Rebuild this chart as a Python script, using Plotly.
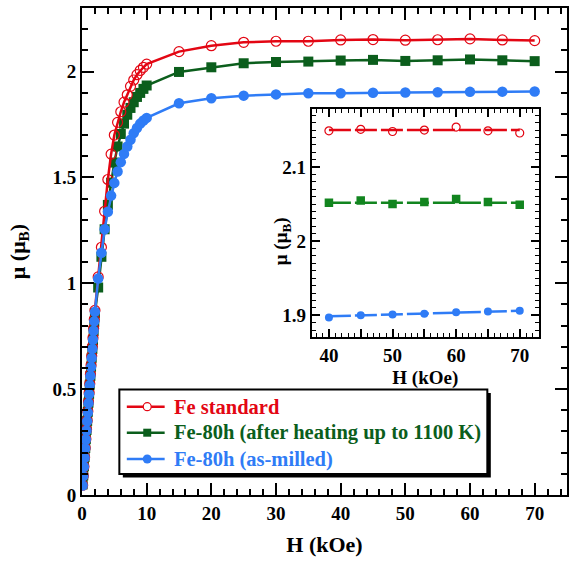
import plotly.graph_objects as go

# ---------------- data ----------------
H_main = [0.1, 0.2, 0.3, 0.4, 0.5, 0.6, 0.7, 0.8, 0.9, 1.0,
          1.1, 1.2, 1.3, 1.4, 1.5, 1.6, 1.7, 1.8, 1.9, 2.0,
          2.5, 3.0, 3.5, 4.0, 4.5, 5.0, 5.5, 6.0, 6.5, 7.0, 7.5, 8.0, 8.5, 9.0, 9.5, 10.0,
          15, 20, 25, 30, 35, 40, 45, 50, 55, 60, 65, 70]

mu_fe_standard = [0.046, 0.091, 0.135, 0.178, 0.222, 0.265, 0.309, 0.352, 0.396, 0.439,
                  0.483, 0.526, 0.570, 0.613, 0.656, 0.700, 0.743, 0.786, 0.829, 0.872,
                  1.03, 1.17, 1.34, 1.49, 1.61, 1.70, 1.76, 1.81, 1.855, 1.89, 1.93, 1.96,
                  1.985, 2.005, 2.02, 2.035,
                  2.094, 2.122, 2.138, 2.143, 2.143, 2.149, 2.151, 2.148, 2.150, 2.154, 2.149, 2.146]

mu_fe80_heated = [0.050, 0.093, 0.136, 0.179, 0.222, 0.265, 0.307, 0.350, 0.393, 0.436,
                  0.478, 0.521, 0.563, 0.606, 0.648, 0.690, 0.732, 0.775, 0.818, 0.860,
                  0.98, 1.125, 1.255, 1.37, 1.475, 1.57, 1.646, 1.705, 1.754, 1.796, 1.828, 1.855,
                  1.88, 1.899, 1.918, 1.934,
                  1.998, 2.020, 2.039, 2.045, 2.047, 2.052, 2.055, 2.050, 2.053, 2.057, 2.053, 2.049]

mu_fe80_milled = [0.045, 0.090, 0.133, 0.176, 0.220, 0.262, 0.305, 0.348, 0.390, 0.433,
                  0.476, 0.519, 0.562, 0.604, 0.647, 0.690, 0.733, 0.776, 0.820, 0.865,
                  1.022, 1.144, 1.255, 1.338, 1.414, 1.474, 1.528, 1.572, 1.611, 1.646, 1.678, 1.709,
                  1.733, 1.754, 1.769, 1.781,
                  1.850, 1.874, 1.886, 1.892, 1.897, 1.897, 1.900, 1.901, 1.902, 1.904, 1.905, 1.906]

# inset (high-field zoom)
H_inset = [40, 45, 50, 55, 60, 65, 70]
inset_fe_standard = [2.149, 2.151, 2.148, 2.150, 2.154, 2.149, 2.146]
inset_fe80_heated = [2.052, 2.055, 2.050, 2.053, 2.057, 2.053, 2.049]
inset_fe80_milled = [1.897, 1.900, 1.901, 1.902, 1.904, 1.905, 1.906]

# linear fits shown in the inset (end points)
H_fit = [40, 70]
fit_fe_standard = [2.150, 2.150]
fit_fe80_heated = [2.052, 2.052]
fit_fe80_milled = [1.8985, 1.9060]

legend_labels = ["Fe standard", "Fe-80h (after heating up to 1100 K)", "Fe-80h (as-milled)"]

# ---------------- styling ----------------
RED = "#e30613"
GREEN = "#0b5e1c"
BLUE = "#2f7cf6"
GREEN_IN = "#12851f"
FONT = "Liberation Serif"

W, H = 569, 564
ML, MR, MT, MB = 82, 0, 8, 69
PW, PH = W - ML - MR, H - MT - MB


def px(xpix):
    return (xpix - ML) / PW


def py(ypix):
    return (H - MB - ypix) / PH


fig = go.Figure()

fig.add_trace(go.Scatter(
    x=H_main, y=mu_fe80_heated, mode="lines+markers", name=legend_labels[1],
    line=dict(color=GREEN, width=2.5),
    marker=dict(symbol="square", size=10, color=GREEN),
    showlegend=False, xaxis="x", yaxis="y"))

fig.add_trace(go.Scatter(
    x=H_main, y=mu_fe_standard, mode="lines+markers", name=legend_labels[0],
    line=dict(color=RED, width=2.5),
    marker=dict(symbol="circle-open", size=10, color=RED, line=dict(width=1.2)),
    showlegend=False, xaxis="x", yaxis="y"))

fig.add_trace(go.Scatter(
    x=H_main, y=mu_fe80_milled, mode="lines+markers", name=legend_labels[2],
    line=dict(color=BLUE, width=2.5),
    marker=dict(symbol="circle", size=10.5, color=BLUE),
    showlegend=False, xaxis="x", yaxis="y"))

# inset fits
for yv, col in [(fit_fe_standard, RED), (fit_fe80_heated, GREEN_IN), (fit_fe80_milled, BLUE)]:
    fig.add_trace(go.Scatter(x=H_fit, y=yv, mode="lines", showlegend=False,
                             line=dict(color=col, width=2.5, dash="22px,4px"),
                             xaxis="x2", yaxis="y2", hoverinfo="skip"))

fig.add_trace(go.Scatter(x=H_inset, y=inset_fe_standard, mode="markers", showlegend=False,
                         marker=dict(symbol="circle-open", size=8, color=RED, line=dict(width=1.2)),
                         xaxis="x2", yaxis="y2"))
fig.add_trace(go.Scatter(x=H_inset, y=inset_fe80_heated, mode="markers", showlegend=False,
                         marker=dict(symbol="square", size=8.5, color=GREEN_IN),
                         xaxis="x2", yaxis="y2"))
fig.add_trace(go.Scatter(x=H_inset, y=inset_fe80_milled, mode="markers", showlegend=False,
                         marker=dict(symbol="circle", size=8, color=BLUE),
                         xaxis="x2", yaxis="y2"))

tickfont = dict(family=FONT, size=19, color="black", weight="bold")
titlefont = dict(family=FONT, size=22, color="black", weight="bold")
insetfont = dict(family=FONT, size=19, color="black", weight="bold")

common = dict(showline=True, linewidth=2, linecolor="black", mirror="ticks",
              ticks="inside", tickcolor="black", tickwidth=1.5, showgrid=False,
              zeroline=False, tickfont=tickfont)

fig.update_layout(
    width=W, height=H,
    margin=dict(l=ML, r=MR, t=MT, b=MB),
    paper_bgcolor="white", plot_bgcolor="white",
    font=dict(family=FONT, color="black"),
    showlegend=False,
    xaxis=dict(domain=[0, 1], range=[0, 75], dtick=10, tick0=0, ticklen=12,
               minor=dict(dtick=2, ticklen=6, ticks="inside", tickcolor="black", tickwidth=1.5),
               title=dict(text="H (kOe)", font=titlefont, standoff=14), **common),
    yaxis=dict(domain=[0, 1], range=[0, 2.3], dtick=0.5, tick0=0, ticklen=12,
               minor=dict(dtick=0.1, ticklen=6, ticks="inside", tickcolor="black", tickwidth=1.5),
               title=dict(text="μ (μ<sub>B</sub>)", font=titlefont, standoff=21), **common),
    xaxis2=dict(domain=[px(312.7), px(540.7)], range=[37.3, 73], anchor="y2",
                dtick=5, tick0=40, ticklabelstep=2, ticklen=8,
                minor=dict(dtick=1, ticklen=4, ticks="inside", tickcolor="black", tickwidth=1),
                title=dict(text="H (kOe)", font=insetfont, standoff=6), **common),
    yaxis2=dict(domain=[py(336.7), py(109.3)], range=[1.871, 2.178], anchor="x2",
                dtick=0.1, tick0=0, ticklen=8,
                minor=dict(dtick=0.01, ticklen=4, ticks="inside", tickcolor="black", tickwidth=1),
                **common),
)

# inset y title
fig.add_annotation(text="μ (μ<sub>B</sub>)", xref="paper", yref="paper",
                   x=px(283), y=py(241), textangle=-90, showarrow=False,
                   font=insetfont, xanchor="center", yanchor="middle")

# ---------------- hand-drawn legend box (with drop shadow) ----------------
fig.add_shape(type="rect", xref="paper", yref="paper",
              x0=px(123), x1=px(492.5), y0=py(477.5), y1=py(393),
              fillcolor="black", line=dict(width=0), layer="above")
fig.add_shape(type="rect", xref="paper", yref="paper",
              x0=px(119.5), x1=px(489), y0=py(474), y1=py(389.5),
              fillcolor="white", line=dict(color="black", width=2), layer="above")

rows_y = [406.7, 432.7, 459.0]
styles = [(RED, "open"), (GREEN, "square"), (BLUE, "circle")]
for lbl, ry, (col, kind) in zip(legend_labels, rows_y, styles):
    fig.add_shape(type="line", xref="paper", yref="paper",
                  x0=px(127), x1=px(165), y0=py(ry), y1=py(ry),
                  line=dict(color=col, width=2.5), layer="above")
    cx = 147.5
    r = 4.0 if kind != "circle" else 4.5
    if kind == "square":
        fig.add_shape(type="rect", xref="paper", yref="paper",
                      x0=px(cx - r), x1=px(cx + r), y0=py(ry + r), y1=py(ry - r),
                      fillcolor=col, line=dict(width=0), layer="above")
    elif kind == "open":
        fig.add_shape(type="circle", xref="paper", yref="paper",
                      x0=px(cx - r), x1=px(cx + r), y0=py(ry + r), y1=py(ry - r),
                      fillcolor="white", line=dict(color=col, width=1.2), layer="above")
    else:
        fig.add_shape(type="circle", xref="paper", yref="paper",
                      x0=px(cx - r), x1=px(cx + r), y0=py(ry + r), y1=py(ry - r),
                      fillcolor=col, line=dict(width=0), layer="above")
    fig.add_annotation(text=lbl, xref="paper", yref="paper",
                       x=px(172), y=py(ry), xanchor="left", yanchor="middle",
                       showarrow=False,
                       font=dict(family=FONT, size=20.5, color=col, weight="bold"))

fig.write_html("out.html")
